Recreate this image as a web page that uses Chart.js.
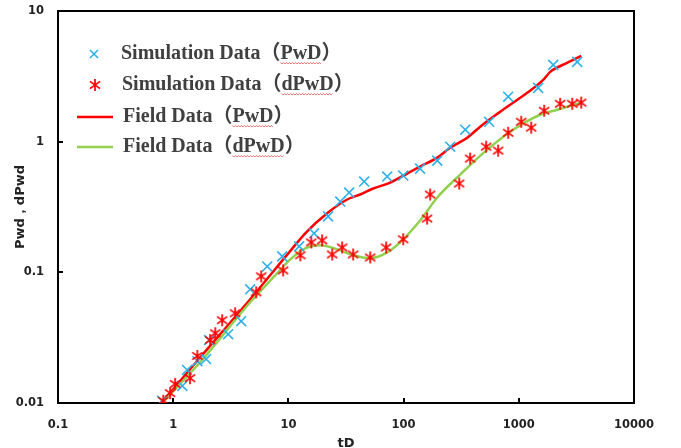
<!DOCTYPE html>
<html>
<head>
<meta charset="utf-8">
<script src="https://cdn.jsdelivr.net/npm/chart.js@4.4.0/dist/chart.umd.min.js"></script>
<style>
html, body { margin: 0; padding: 0; background: #fff; }
#wrap { width: 681px; height: 448px; }
</style>
</head>
<body>
<div id="wrap"><canvas id="c" width="681" height="448"></canvas></div>
<script>
// simulation data (PwD)
const simPwdT = [0.80, 1.20, 1.32, 1.62, 1.93, 2.05, 3.00, 3.89, 4.66, 6.55, 8.84, 12.4, 16.7, 22.1, 28.2, 33.7, 45.5, 72.1, 99.3, 139, 196, 254, 343, 553, 809, 1473, 1990, 3214];
const simPwdV = [0.0104, 0.0135, 0.0179, 0.0209, 0.0217, 0.0303, 0.0336, 0.0423, 0.0741, 0.111, 0.1325, 0.158, 0.199, 0.268, 0.348, 0.408, 0.495, 0.541, 0.550, 0.622, 0.716, 0.916, 1.235, 1.42, 2.21, 2.58, 3.87, 4.08];

// simulation data (dPwD)
const simDpwdT = [0.82, 0.94, 1.04, 1.40, 1.62, 2.09, 2.32, 2.66, 3.45, 5.25, 5.81, 9.01, 12.7, 15.8, 19.6, 24.0, 29.3, 36.5, 51.3, 70.6, 99.3, 160, 170, 304, 378, 521, 662, 809, 1049, 1282, 1660, 2287, 2908, 3483];
const simDpwdV = [0.0104, 0.0119, 0.0140, 0.0155, 0.0229, 0.0303, 0.0342, 0.0430, 0.0486, 0.0703, 0.0932, 0.1035, 0.135, 0.1695, 0.1755, 0.137, 0.155, 0.137, 0.130, 0.155, 0.179, 0.258, 0.394, 0.478, 0.742, 0.916, 0.854, 1.17, 1.42, 1.28, 1.725, 1.95, 1.95, 1.99];

// field data (PwD)
const fieldPwdT = [0.82, 1.72, 4.66, 10.4, 14.0, 22.1, 32.4, 42.0, 54.5, 76.5, 107.5, 139, 196, 254, 357, 462, 690, 793, 1183, 1629, 1873, 2630, 3483];
const fieldPwdV = [0.0104, 0.0224, 0.0622, 0.146, 0.199, 0.287, 0.361, 0.394, 0.438, 0.486, 0.570, 0.645, 0.755, 0.900, 1.073, 1.302, 1.694, 1.85, 2.366, 2.97, 3.42, 4.01, 4.53];

// field data (dPwD)
const fieldDpwdT = [0.82, 1.72, 4.66, 7.68, 10.4, 14.0, 18.9, 26.5, 36.5, 51.3, 72.1, 99.3, 139, 196, 310, 532, 894, 1534, 2155, 3483];
const fieldDpwdV = [0.0102, 0.0206, 0.059, 0.0948, 0.1257, 0.1524, 0.161, 0.150, 0.135, 0.128, 0.142, 0.179, 0.249, 0.374, 0.560, 0.869, 1.235, 1.607, 1.755, 1.99];

const xTicks = [0.1, 1, 10, 100, 1000, 10000];
const xTickLabels = ['0.1', '1', '10', '100', '1000', '10000'];
const yTicks = [0.01, 0.1, 1, 10];
const yTickLabels = ['0.01', '0.1', '1', '10'];

const legendLabels = ['Simulation Data（PwD）', 'Simulation Data（dPwD）', 'Field Data（PwD）', 'Field Data（dPwD）'];
const legendMarked = ['PwD', 'dPwD', 'PwD', 'dPwD'];

const BLUE = '#2CB1EC';
const RED = '#FF0000';
const GREEN = '#92D050';

function pts(t, v) {
    return t.map((x, i) => ({ x: x, y: v[i] }));
}

// excel style asterisk: x with a vertical bar
function starMarker(size, color) {
    const c = document.createElement('canvas');
    c.width = size;
    c.height = size;
    const g = c.getContext('2d');
    g.strokeStyle = color;
    g.lineWidth = 1.7;
    const m = size / 2, r = size / 2 - 1;
    g.beginPath();
    g.moveTo(m - r * 0.85, m - r * 0.6); g.lineTo(m + r * 0.85, m + r * 0.6);
    g.moveTo(m + r * 0.85, m - r * 0.6); g.lineTo(m - r * 0.85, m + r * 0.6);
    g.moveTo(m, m - r); g.lineTo(m, m + r);
    g.stroke();
    return c;
}
const star = starMarker(14, RED);

const tickFont = { family: 'DejaVu Sans', weight: 'bold', size: 11.5 };
const titleFont = { family: 'DejaVu Sans', weight: 'bold', size: 13 };

// legend drawn inside the plot, top left
const legendPlugin = {
    id: 'insideLegend',
    afterDraw(chart) {
        const ctx = chart.ctx;
        const rowsY = [54, 85, 117, 147];
        const textX = [121, 122, 123, 123];
        ctx.save();
        ctx.font = 'bold 20px "Liberation Serif", "Noto Sans CJK SC", serif';
        ctx.textBaseline = 'middle';
        legendLabels.forEach((lab, i) => {
            const y = rowsY[i];
            // sample
            if (i === 0) {
                ctx.strokeStyle = BLUE;
                ctx.lineWidth = 1.6;
                ctx.beginPath();
                ctx.moveTo(90, y - 4); ctx.lineTo(98, y + 4);
                ctx.moveTo(98, y - 4); ctx.lineTo(90, y + 4);
                ctx.stroke();
            } else if (i === 1) {
                ctx.drawImage(star, 95 - 7, y - 7);
            } else {
                ctx.strokeStyle = i === 2 ? RED : GREEN;
                ctx.lineWidth = 2.5;
                ctx.beginPath();
                ctx.moveTo(77, y); ctx.lineTo(113, y);
                ctx.stroke();
            }
            ctx.fillStyle = '#404040';
            ctx.fillText(lab, textX[i], y);
            // spell-check wave under the marked word
            const k = lab.indexOf(legendMarked[i]);
            const x0 = textX[i] + ctx.measureText(lab.slice(0, k)).width;
            const w = ctx.measureText(legendMarked[i]).width;
            ctx.strokeStyle = '#F05050';
            ctx.lineWidth = 0.8;
            ctx.beginPath();
            for (let x = 0; x <= w; x += 1.5) {
                const yy = y + 9 + ((Math.round(x / 1.5) % 2) ? 1 : -0.5);
                if (x === 0) ctx.moveTo(x0 + x, yy); else ctx.lineTo(x0 + x, yy);
            }
            ctx.stroke();
        });
        ctx.restore();
    }
};

// top and right edges of the plot box
const boxPlugin = {
    id: 'plotBox',
    afterDraw(chart) {
        const a = chart.chartArea;
        const ctx = chart.ctx;
        ctx.save();
        ctx.strokeStyle = '#000';
        ctx.lineWidth = 2;
        ctx.beginPath();
        ctx.moveTo(a.left, a.top);
        ctx.lineTo(a.right, a.top);
        ctx.lineTo(a.right, a.bottom);
        ctx.stroke();
        ctx.restore();
    }
};

new Chart(document.getElementById('c').getContext('2d'), {
    type: 'scatter',
    data: {
        datasets: [{
            label: legendLabels[0],
            data: pts(simPwdT, simPwdV),
            pointStyle: 'crossRot',
            pointRadius: 7,
            borderColor: BLUE,
            borderWidth: 1.6,
            order: 1
        }, {
            label: legendLabels[1],
            data: pts(simDpwdT, simDpwdV),
            pointStyle: star,
            order: 0
        }, {
            label: legendLabels[2],
            data: pts(fieldPwdT, fieldPwdV),
            showLine: true,
            pointRadius: 0,
            borderColor: RED,
            borderWidth: 2.5,
            cubicInterpolationMode: 'monotone',
            order: 3
        }, {
            label: legendLabels[3],
            data: pts(fieldDpwdT, fieldDpwdV),
            showLine: true,
            pointRadius: 0,
            borderColor: GREEN,
            borderWidth: 2.5,
            cubicInterpolationMode: 'monotone',
            order: 2
        }]
    },
    options: {
        responsive: false,
        animation: false,
        layout: { padding: { top: 11, right: 47, left: 0, bottom: 0 } },
        plugins: {
            legend: { display: false },
            tooltip: { enabled: false }
        },
        scales: {
            x: {
                type: 'logarithmic',
                min: 0.1,
                max: 10000,
                afterBuildTicks: s => { s.ticks = xTicks.map(v => ({ value: v })); },
                afterFit: s => { s.height = 45; s.paddingLeft = 0; s.paddingRight = 0; },
                ticks: {
                    autoSkip: false,
                    maxRotation: 0,
                    padding: 20,
                    color: '#222',
                    font: tickFont,
                    callback: v => xTickLabels[xTicks.indexOf(v)]
                },
                grid: { drawOnChartArea: false, tickLength: -5, tickColor: '#000', lineWidth: 2 },
                border: { color: '#000', width: 2 },
                title: { display: true, text: 'tD', color: '#222', font: titleFont, padding: { top: 0, bottom: -3 } }
            },
            y: {
                type: 'logarithmic',
                min: 0.01,
                max: 10,
                afterBuildTicks: s => { s.ticks = yTicks.map(v => ({ value: v })); },
                afterFit: s => { s.width = 58; s.paddingTop = 0; s.paddingBottom = 0; },
                ticks: {
                    autoSkip: false,
                    padding: 19,
                    color: '#222',
                    font: tickFont,
                    callback: v => yTickLabels[yTicks.indexOf(v)]
                },
                grid: { drawOnChartArea: false, tickLength: -5, tickColor: '#000', lineWidth: 2 },
                border: { color: '#000', width: 2 },
                title: { display: true, text: 'Pwd，dPwd', color: '#222', font: titleFont, padding: { top: 13, bottom: 0 } }
            }
        }
    },
    plugins: [legendPlugin, boxPlugin]
});
</script>
</body>
</html>
